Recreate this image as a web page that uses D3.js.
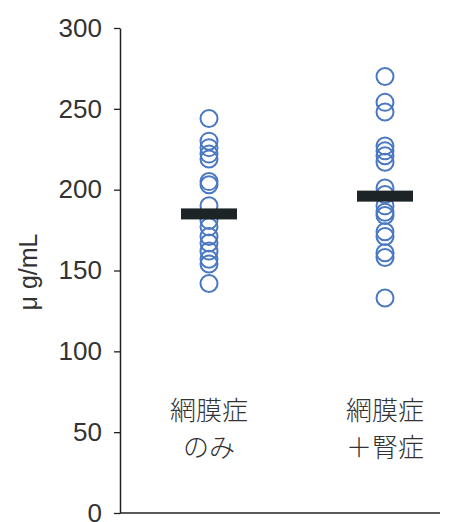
<!DOCTYPE html>
<html>
<head>
<meta charset="utf-8">
<script src="https://cdn.jsdelivr.net/npm/d3@7/dist/d3.min.js"></script>
<style>
  html, body { margin: 0; padding: 0; background: #fff; }
  svg { display: block; }
</style>
</head>
<body>
<svg id="chart" width="459" height="522"></svg>
<script>
// Groups and their label lines
const groups = ["retinopathy", "retinopathyNephropathy"];
const groupLabels = [["網膜症", "のみ"], ["網膜症", "＋腎症"]];

// Individual measurements (μg/mL)
const valuesRetinopathy = [244, 230, 226, 222, 219, 205, 203, 190, 181, 177, 171, 167, 162, 157, 154, 142];
const valuesRetinopathyNephropathy = [270, 254, 248, 227, 224, 221, 217, 201, 197, 190, 186, 184, 174, 171, 161, 158, 133];

// Group means
const groupMeans = [185, 196];

// Axis ticks
const yTicks = [0, 50, 100, 150, 200, 250, 300];
const yLabel = "μ g/mL";

const svg = d3.select("#chart");
const axisLeft = 120, axisRight = 440, axisTop = 28, axisBottom = 513;

const y = d3.scaleLinear().domain([0, 300]).range([axisBottom, axisTop]);
const x = d3.scalePoint().domain(groups).range([209, 385]);

const textColor = "#333";
const blue = "#4a78c2";

// y axis
const yAxis = svg.append("g")
  .attr("transform", `translate(${axisLeft},0)`)
  .call(d3.axisLeft(y).tickValues(yTicks).tickSize(6).tickPadding(12).tickSizeOuter(0));
yAxis.select(".domain").attr("stroke", "#222").attr("stroke-width", 1.5);
yAxis.selectAll(".tick line").attr("stroke", "#222").attr("stroke-width", 1.3);
yAxis.selectAll(".tick text")
  .attr("fill", textColor)
  .style("font-family", "'Liberation Sans', Arial, sans-serif")
  .style("font-size", "26px");

// x baseline
svg.append("line")
  .attr("x1", axisLeft).attr("x2", axisRight)
  .attr("y1", y(0)).attr("y2", y(0))
  .attr("stroke", "#222").attr("stroke-width", 1.5);

// y axis title
svg.append("text")
  .attr("transform", `translate(37,272) rotate(-90)`)
  .attr("text-anchor", "middle")
  .attr("fill", textColor)
  .style("font-family", "'Liberation Sans', Arial, sans-serif")
  .style("font-size", "25px")
  .text(yLabel);

// points
const series = [valuesRetinopathy, valuesRetinopathyNephropathy];
series.forEach((vals, i) => {
  svg.append("g").selectAll("circle")
    .data(vals)
    .join("circle")
    .attr("cx", x(groups[i]))
    .attr("cy", d => y(d))
    .attr("r", 8.5)
    .attr("fill", "none")
    .attr("stroke", blue)
    .attr("stroke-width", 2);
});

// mean bars
svg.append("g").selectAll("rect")
  .data(groupMeans)
  .join("rect")
  .attr("x", (d, i) => x(groups[i]) - 28)
  .attr("y", d => y(d) - 5.5)
  .attr("width", 56)
  .attr("height", 11)
  .attr("fill", "#1c2428");

// category labels
groupLabels.forEach((lines, i) => {
  const t = svg.append("text")
    .attr("text-anchor", "middle")
    .attr("fill", textColor)
    .style("font-family", "'Noto Sans CJK JP', sans-serif")
    .style("font-weight", 300)
    .style("font-size", "26px");
  lines.forEach((ln, j) => {
    t.append("tspan")
      .attr("x", x(groups[i]))
      .attr("y", 420 + j * 37)
      .text(ln);
  });
});
</script>
</body>
</html>
